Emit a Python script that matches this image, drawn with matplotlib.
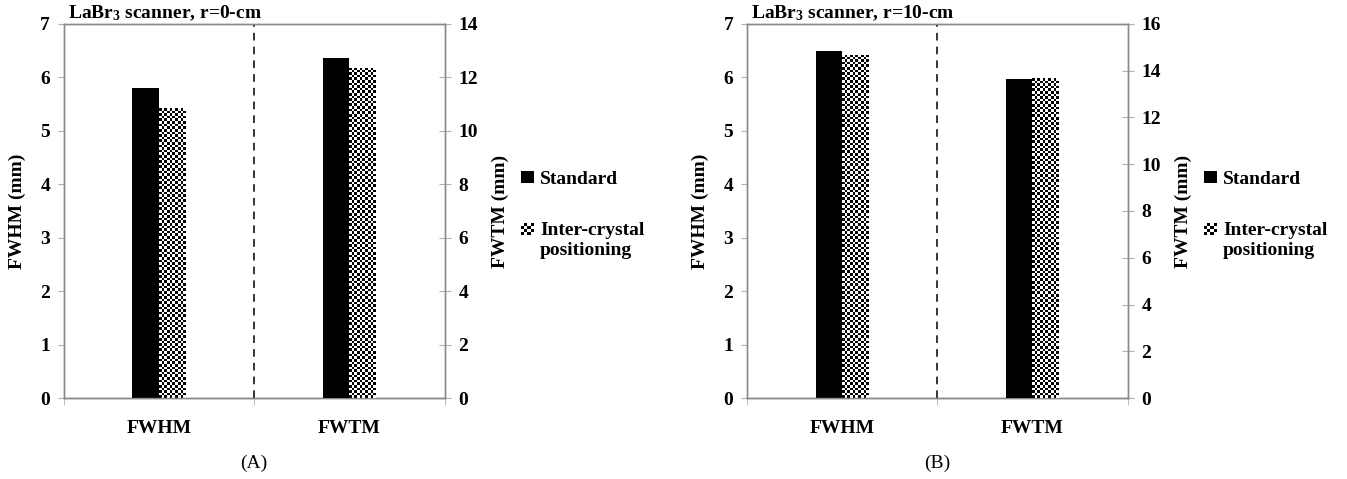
import numpy as np
import matplotlib
matplotlib.use("Agg")
import matplotlib.pyplot as plt
from matplotlib.patches import Rectangle, Patch
from matplotlib.legend_handler import HandlerBase

plt.rcParams["font.family"] = ["Liberation Serif", "DejaVu Serif"]
plt.rcParams["font.weight"] = "bold"
plt.rcParams["mathtext.fontset"] = "custom"
plt.rcParams["mathtext.rm"] = "Liberation Serif:bold"
plt.rcParams["mathtext.bf"] = "Liberation Serif:bold"
plt.rcParams["mathtext.default"] = "rm"

# === DATA ===
categories = ["FWHM", "FWTM"]
series_names = ["Standard", "Inter-crystal\npositioning"]

# panel A (r = 0 cm)
a_fwhm = [5.80, 5.42]      # left axis
a_fwtm = [12.72, 12.36]    # right axis
# panel B (r = 10 cm)
b_fwhm = [6.50, 6.42]
b_fwtm = [13.63, 13.68]

titles = [r"LaBr$_3$ scanner, r=0-cm", r"LaBr$_3$ scanner, r=10-cm"]
captions = ["(A)", "(B)"]
right_max = [14, 16]
right_ticks = [np.arange(0, 15, 2), np.arange(0, 17, 2)]
left_ticks = np.arange(0, 8, 1)

SPINE = "#8a8a8a"
TICK = "#b0b0b0"
FS = 14
bar_w = 0.14


def checker(n_x, n_y):
    yy, xx = np.mgrid[0:n_y, 0:n_x]
    return ((xx + yy) % 2).astype(float)


def checker_bar(axis, bar):
    # fill a bar with a black/white checkerboard clipped to its outline
    x0, w, h = bar.get_x(), bar.get_width(), bar.get_height()
    p0 = axis.transData.transform((x0, 0))
    p1 = axis.transData.transform((x0 + w, h))
    cell = 2.6
    nx = max(1, int(round((p1[0] - p0[0]) / cell)))
    ny = max(1, int(round((p1[1] - p0[1]) / cell)))
    im = axis.imshow(checker(nx, ny), cmap="gray", vmin=0, vmax=1,
                     extent=(x0, x0 + w, 0, h), origin="lower",
                     interpolation="nearest", aspect="auto", zorder=3)
    im.set_clip_path(bar)


class CheckerHandler(HandlerBase):
    # small checkerboard legend key, lifted to sit on the first text line
    def create_artists(self, legend, orig_handle, xdescent, ydescent,
                       width, height, fontsize, trans):
        arts = []
        n = 4
        lift = 0.55 * fontsize
        cw, ch = width / n, height / n
        for i in range(n):
            for j in range(n):
                if (i + j) % 2 == 0:
                    r = Rectangle((-xdescent + i * cw, -ydescent + lift + j * ch), cw, ch,
                                  facecolor="black", edgecolor="none", transform=trans)
                    arts.append(r)
        return arts


fig = plt.figure(figsize=(13.47, 4.79), dpi=100)

panels = [(a_fwhm, a_fwtm), (b_fwhm, b_fwtm)]
lefts = [0.0475, 0.5546]

for k, (fwhm, fwtm) in enumerate(panels):
    ax = fig.add_axes([lefts[k], 0.169, 0.2825, 0.781])
    ax2 = ax.twinx()
    ax.set_xlim(-0.5, 1.5)
    ax.set_ylim(0, 7)
    ax2.set_ylim(0, right_max[k])

    # left-axis category (FWHM)
    b_std = ax.bar(0 - bar_w / 2, fwhm[0], bar_w, color="black", zorder=3)
    b_int = ax.bar(0 + bar_w / 2, fwhm[1], bar_w, color="white", zorder=2)
    # right-axis category (FWTM)
    c_std = ax2.bar(1 - bar_w / 2, fwtm[0], bar_w, color="black", zorder=3)
    c_int = ax2.bar(1 + bar_w / 2, fwtm[1], bar_w, color="white", zorder=2)

    checker_bar(ax, b_int[0])
    checker_bar(ax2, c_int[0])
    ax.set_xlim(-0.5, 1.5)
    ax.set_ylim(0, 7)
    ax2.set_ylim(0, right_max[k])

    ax.axvline(0.5, color="black", linestyle=(0, (5, 4)), linewidth=1.1, zorder=4)

    for a in (ax, ax2):
        for s in a.spines.values():
            s.set_color(SPINE)
            s.set_linewidth(1.0)
    ax.spines["bottom"].set_color("#666666")

    ax.set_yticks(left_ticks)
    ax2.set_yticks(right_ticks[k])
    ax.tick_params(axis="y", direction="out", length=4, color=TICK,
                   labelsize=FS, pad=6)
    ax2.tick_params(axis="y", direction="inout", length=8, color=TICK,
                    labelsize=FS, pad=6)

    ax.set_xticks([0, 1])
    ax.set_xticklabels(categories, fontsize=FS, fontweight="bold")
    ax.set_xticks([-0.5, 0.5, 1.5], minor=True)
    ax.tick_params(axis="x", which="major", length=0, pad=16)
    ax.tick_params(axis="x", which="minor", direction="out", length=5, color=TICK)

    ax.set_ylabel("FWHM (mm)", fontsize=FS, fontweight="bold", labelpad=10)
    ax2.set_ylabel("FWTM (mm)", fontsize=FS, fontweight="bold", labelpad=10)

    ax.text(0.01, 1.002, titles[k], transform=ax.transAxes, fontsize=14,
            fontweight="bold", ha="left", va="bottom")

    handles = [Patch(facecolor="black"), Patch(facecolor="white")]
    ax2.legend(handles, series_names, loc="center left",
               bbox_to_anchor=(1.2, 0.49), frameon=False,
               prop={"size": 14, "weight": "bold"},
               handlelength=0.7, handleheight=0.6, handletextpad=0.3,
               labelspacing=1.75, borderpad=0, borderaxespad=0,
               handler_map={handles[1]: CheckerHandler()})

    fig.text(lefts[k] + 0.2825 * 0.5, 0.033, captions[k], fontsize=14,
             fontweight="normal", ha="center", va="center")

fig.savefig("out.png", dpi=100)
